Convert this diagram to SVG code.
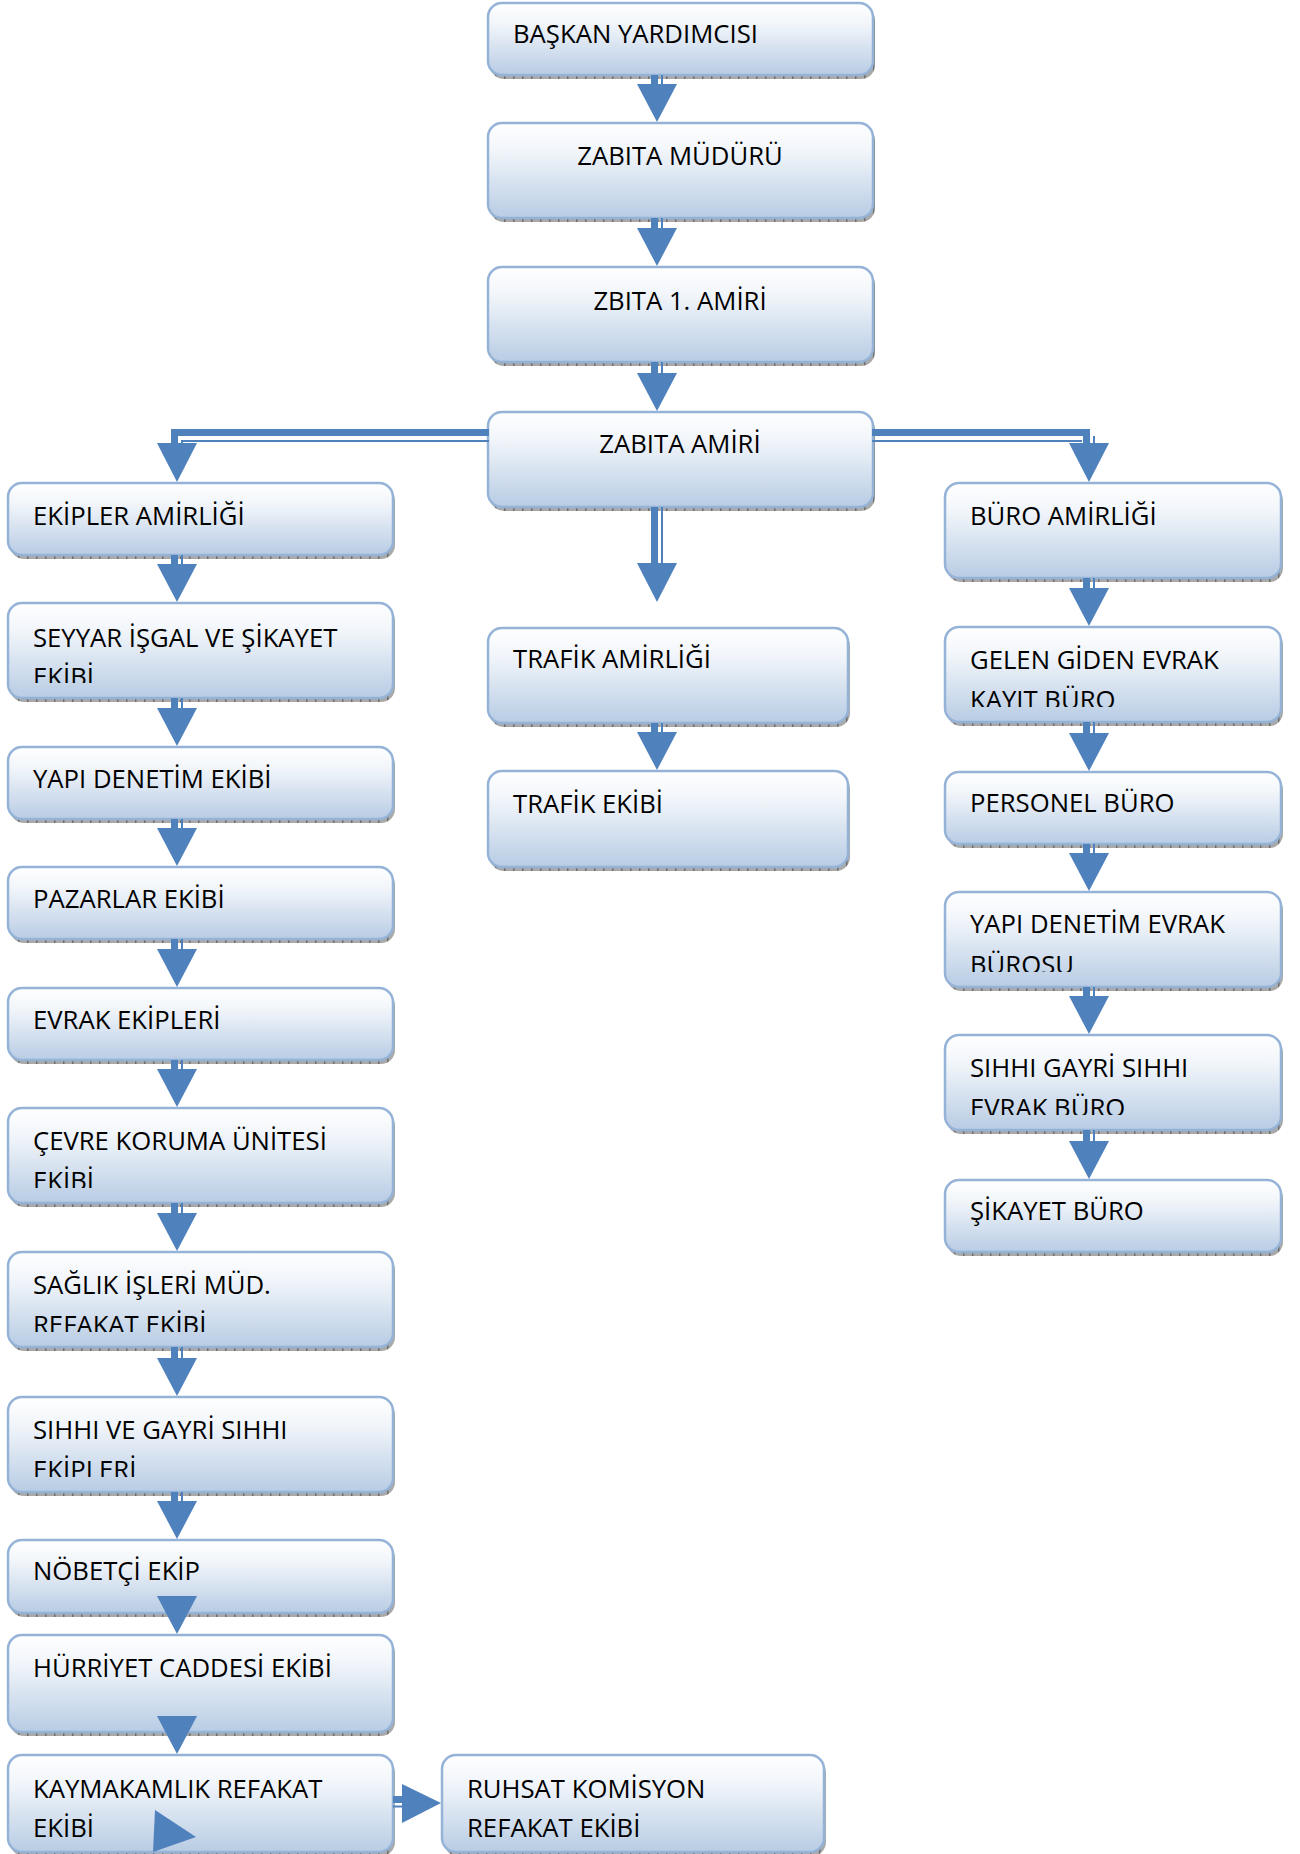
<svg xmlns="http://www.w3.org/2000/svg" width="1300" height="1854" viewBox="0 0 1300 1854">
<defs>
<linearGradient id="grad" x1="0" y1="0" x2="0" y2="1">
<stop offset="0" stop-color="#ffffff"/>
<stop offset="0.3" stop-color="#f1f5fa"/>
<stop offset="1" stop-color="#b8cce4"/>
</linearGradient>
<pattern id="hatch" width="9" height="9" patternUnits="userSpaceOnUse">
<rect width="9" height="9" fill="#a9a9a9"/>
<rect x="0" width="1.5" height="9" fill="#6f6f6f"/>
</pattern>
<clipPath id="c1" clipPathUnits="userSpaceOnUse"><rect x="8" y="603" width="385" height="80"/></clipPath>
<clipPath id="c2" clipPathUnits="userSpaceOnUse"><rect x="8" y="1108" width="385" height="80"/></clipPath>
<clipPath id="c3" clipPathUnits="userSpaceOnUse"><rect x="8" y="1252" width="385" height="80"/></clipPath>
<clipPath id="c4" clipPathUnits="userSpaceOnUse"><rect x="8" y="1397" width="385" height="80"/></clipPath>
<clipPath id="c5" clipPathUnits="userSpaceOnUse"><rect x="945" y="627" width="338" height="80"/></clipPath>
<clipPath id="c6" clipPathUnits="userSpaceOnUse"><rect x="945" y="892" width="338" height="80"/></clipPath>
<clipPath id="c7" clipPathUnits="userSpaceOnUse"><rect x="945" y="1035" width="338" height="80"/></clipPath>
</defs>
<style>
.sh{fill:url(#hatch)}
.bx{fill:url(#grad);stroke:#95b3d7;stroke-width:2.5}
.t{font-family:"Open Sans","Noto Sans",sans-serif;font-size:25.7px;fill:#000}
.m{text-anchor:middle}
.ar{fill:#4f81bd}
.tk{stroke:#4f81bd;stroke-width:7;fill:none}
.tn{stroke:#4f81bd;stroke-width:2;fill:none}
</style>

<!-- center column -->
<g id="baskan-yardimcisi">
<rect class="sh" x="490" y="7" width="385" height="72" rx="14"/>
<rect class="bx" x="488" y="3" width="385" height="72" rx="14"/>
<text class="t" x="513" y="43">BAŞKAN YARDIMCISI</text>
</g>
<g id="zabita-muduru">
<rect class="sh" x="490" y="127" width="385" height="95" rx="14"/>
<rect class="bx" x="488" y="123" width="385" height="95" rx="14"/>
<text class="t m" x="680" y="165">ZABITA MÜDÜRÜ</text>
</g>
<g id="zbita-1-amiri">
<rect class="sh" x="490" y="271" width="385" height="95" rx="14"/>
<rect class="bx" x="488" y="267" width="385" height="95" rx="14"/>
<text class="t m" x="680" y="310">ZBITA 1. AMİRİ</text>
</g>
<g id="zabita-amiri">
<rect class="sh" x="490" y="416" width="385" height="95" rx="14"/>
<rect class="bx" x="488" y="412" width="385" height="95" rx="14"/>
<text class="t m" x="680" y="453">ZABITA AMİRİ</text>
</g>
<g id="trafik-amirligi">
<rect class="sh" x="490" y="632" width="360" height="95" rx="14"/>
<rect class="bx" x="488" y="628" width="360" height="95" rx="14"/>
<text class="t" x="513" y="668">TRAFİK AMİRLİĞİ</text>
</g>
<g id="trafik-ekibi">
<rect class="sh" x="490" y="775" width="360" height="96" rx="14"/>
<rect class="bx" x="488" y="771" width="360" height="96" rx="14"/>
<text class="t" x="513" y="813">TRAFİK EKİBİ</text>
</g>

<!-- left column -->
<g id="ekipler-amirligi">
<rect class="sh" x="10" y="487" width="385" height="72" rx="14"/>
<rect class="bx" x="8" y="483" width="385" height="72" rx="14"/>
<text class="t" x="33" y="525">EKİPLER AMİRLİĞİ</text>
</g>
<g id="seyyar-isgal">
<rect class="sh" x="10" y="607" width="385" height="95" rx="14"/>
<rect class="bx" x="8" y="603" width="385" height="95" rx="14"/>
<text class="t" x="33" y="647">SEYYAR İŞGAL VE ŞİKAYET</text>
<text class="t" x="33" y="686" clip-path="url(#c1)">EKİBİ</text>
</g>
<g id="yapi-denetim-ekibi">
<rect class="sh" x="10" y="751" width="385" height="72" rx="14"/>
<rect class="bx" x="8" y="747" width="385" height="72" rx="14"/>
<text class="t" x="33" y="788">YAPI DENETİM EKİBİ</text>
</g>
<g id="pazarlar-ekibi">
<rect class="sh" x="10" y="871" width="385" height="72" rx="14"/>
<rect class="bx" x="8" y="867" width="385" height="72" rx="14"/>
<text class="t" x="33" y="908">PAZARLAR EKİBİ</text>
</g>
<g id="evrak-ekipleri">
<rect class="sh" x="10" y="992" width="385" height="72" rx="14"/>
<rect class="bx" x="8" y="988" width="385" height="72" rx="14"/>
<text class="t" x="33" y="1029">EVRAK EKİPLERİ</text>
</g>
<g id="cevre-koruma">
<rect class="sh" x="10" y="1112" width="385" height="95" rx="14"/>
<rect class="bx" x="8" y="1108" width="385" height="95" rx="14"/>
<text class="t" x="33" y="1150">ÇEVRE KORUMA ÜNİTESİ</text>
<text class="t" x="33" y="1190" clip-path="url(#c2)">EKİBİ</text>
</g>
<g id="saglik-isleri">
<rect class="sh" x="10" y="1256" width="385" height="95" rx="14"/>
<rect class="bx" x="8" y="1252" width="385" height="95" rx="14"/>
<text class="t" x="33" y="1294">SAĞLIK İŞLERİ MÜD.</text>
<text class="t" x="33" y="1334" clip-path="url(#c3)">REFAKAT EKİBİ</text>
</g>
<g id="sihhi-ve-gayri-sihhi">
<rect class="sh" x="10" y="1401" width="385" height="95" rx="14"/>
<rect class="bx" x="8" y="1397" width="385" height="95" rx="14"/>
<text class="t" x="33" y="1439">SIHHI VE GAYRİ SIHHI</text>
<text class="t" x="33" y="1479" clip-path="url(#c4)">EKİPLERİ</text>
</g>
<g id="nobetci-ekip">
<rect class="sh" x="10" y="1544" width="385" height="73" rx="14"/>
<rect class="bx" x="8" y="1540" width="385" height="73" rx="14"/>
<text class="t" x="33" y="1580">NÖBETÇİ EKİP</text>
</g>
<g id="hurriyet-caddesi">
<rect class="sh" x="10" y="1639" width="385" height="97" rx="14"/>
<rect class="bx" x="8" y="1635" width="385" height="97" rx="14"/>
<text class="t" x="33" y="1677">HÜRRİYET CADDESİ EKİBİ</text>
</g>
<g id="kaymakamlik-refakat">
<rect class="sh" x="10" y="1759" width="385" height="97" rx="14"/>
<rect class="bx" x="8" y="1755" width="385" height="97" rx="14"/>
<text class="t" x="33" y="1798">KAYMAKAMLIK REFAKAT</text>
<text class="t" x="33" y="1837">EKİBİ</text>
</g>
<g id="ruhsat-komisyon">
<rect class="sh" x="444" y="1759" width="382" height="97" rx="14"/>
<rect class="bx" x="442" y="1755" width="382" height="97" rx="14"/>
<text class="t" x="467" y="1798">RUHSAT KOMİSYON</text>
<text class="t" x="467" y="1837">REFAKAT EKİBİ</text>
</g>

<!-- right column -->
<g id="buro-amirligi">
<rect class="sh" x="947" y="487" width="336" height="95" rx="14"/>
<rect class="bx" x="945" y="483" width="336" height="95" rx="14"/>
<text class="t" x="970" y="525">BÜRO AMİRLİĞİ</text>
</g>
<g id="gelen-giden-evrak">
<rect class="sh" x="947" y="631" width="336" height="95" rx="14"/>
<rect class="bx" x="945" y="627" width="336" height="95" rx="14"/>
<text class="t" x="970" y="669">GELEN GİDEN EVRAK</text>
<text class="t" x="970" y="709" clip-path="url(#c5)">KAYIT BÜRO</text>
</g>
<g id="personel-buro">
<rect class="sh" x="947" y="776" width="336" height="72" rx="14"/>
<rect class="bx" x="945" y="772" width="336" height="72" rx="14"/>
<text class="t" x="970" y="812">PERSONEL BÜRO</text>
</g>
<g id="yapi-denetim-evrak">
<rect class="sh" x="947" y="896" width="336" height="95" rx="14"/>
<rect class="bx" x="945" y="892" width="336" height="95" rx="14"/>
<text class="t" x="970" y="933">YAPI DENETİM EVRAK</text>
<text class="t" x="970" y="974" clip-path="url(#c6)">BÜROSU</text>
</g>
<g id="sihhi-gayri-sihhi-evrak">
<rect class="sh" x="947" y="1039" width="336" height="95" rx="14"/>
<rect class="bx" x="945" y="1035" width="336" height="95" rx="14"/>
<text class="t" x="970" y="1077">SIHHI GAYRİ SIHHI</text>
<text class="t" x="970" y="1117" clip-path="url(#c7)">EVRAK BÜRO</text>
</g>
<g id="sikayet-buro">
<rect class="sh" x="947" y="1184" width="336" height="72" rx="14"/>
<rect class="bx" x="945" y="1180" width="336" height="72" rx="14"/>
<text class="t" x="970" y="1220">ŞİKAYET BÜRO</text>
</g>

<!-- connectors -->
<g id="connectors">
<!-- center -->
<path class="tk" d="M654.5 75V85M654.5 218V229M654.5 362V374M654.5 507V564M654.5 723V733"/>
<path class="tn" d="M662 75V85M662 218V229M662 362V374M662 507V564M662 723V733"/>
<polygon class="ar" points="637,84 677,84 657,122"/>
<polygon class="ar" points="637,228 677,228 657,266"/>
<polygon class="ar" points="637,373 677,373 657,411"/>
<polygon class="ar" points="637,563 677,563 657,602"/>
<polygon class="ar" points="637,732 677,732 657,770"/>
<!-- branches -->
<path class="tk" d="M489 432.5H174.5V444"/>
<path class="tn" d="M489 441H182V444"/>
<polygon class="ar" points="157,443 197,443 177,482"/>
<path class="tk" d="M872 432.5H1086.5V444"/>
<path class="tn" d="M872 441H1082M1094 436V444"/>
<polygon class="ar" points="1069,443 1109,443 1089,482"/>
<!-- left column -->
<path class="tk" d="M174.5 555V565M174.5 698V709M174.5 819V829M174.5 939V950M174.5 1060V1070M174.5 1203V1214M174.5 1347V1359M174.5 1492V1502"/>
<path class="tn" d="M182 555V565M182 698V709M182 819V829M182 939V950M182 1060V1070M182 1203V1214M182 1347V1359M182 1492V1502"/>
<polygon class="ar" points="157,564 197,564 177,602"/>
<polygon class="ar" points="157,708 197,708 177,746"/>
<polygon class="ar" points="157,828 197,828 177,866"/>
<polygon class="ar" points="157,949 197,949 177,987"/>
<polygon class="ar" points="157,1069 197,1069 177,1107"/>
<polygon class="ar" points="157,1213 197,1213 177,1251"/>
<polygon class="ar" points="157,1358 197,1358 177,1396"/>
<polygon class="ar" points="157,1501 197,1501 177,1539"/>
<polygon class="ar" points="157,1596 197,1596 177,1634"/>
<polygon class="ar" points="157,1716 197,1716 177,1754"/>
<!-- kaymakamlik to ruhsat -->
<path class="tk" d="M393 1799.5H403"/>
<path class="tn" d="M393 1806.5H403"/>
<polygon class="ar" points="402,1784 402,1823 441,1803"/>
<polygon class="ar" points="155,1810 196,1837 153,1852"/>
<!-- right column -->
<path class="tk" d="M1086.5 578V589M1086.5 722V734M1086.5 844V854M1086.5 987V997M1086.5 1130V1142"/>
<path class="tn" d="M1094 578V589M1094 722V734M1094 844V854M1094 987V997M1094 1130V1142"/>
<polygon class="ar" points="1069,588 1109,588 1089,626"/>
<polygon class="ar" points="1069,733 1109,733 1089,771"/>
<polygon class="ar" points="1069,853 1109,853 1089,891"/>
<polygon class="ar" points="1069,996 1109,996 1089,1034"/>
<polygon class="ar" points="1069,1141 1109,1141 1089,1179"/>
</g>
</svg>
